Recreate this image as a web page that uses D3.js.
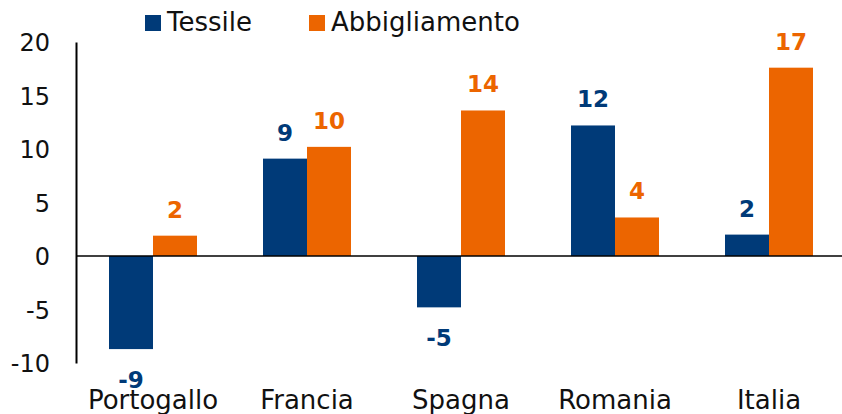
<!DOCTYPE html>
<html>
<head>
<meta charset="utf-8">
<script src="https://cdn.jsdelivr.net/npm/d3@7"></script>
<style>
  html, body { margin: 0; padding: 0; background: #fff; }
  svg { display: block; font-family: "DejaVu Sans", sans-serif; }
</style>
</head>
<body>
<svg id="chart" width="842" height="414"></svg>
<script>
const categories = ["Portogallo", "Francia", "Spagna", "Romania", "Italia"];
const seriesNames = ["Tessile", "Abbigliamento"];
const tessile = [-8.7, 9.1, -4.8, 12.2, 2.0];
const abbigliamento = [1.9, 10.2, 13.6, 3.6, 17.6];
const tessileLabels = ["-9", "9", "-5", "12", "2"];
const abbigliamentoLabels = ["2", "10", "14", "4", "17"];
const yTicks = [-10, -5, 0, 5, 10, 15, 20];
const colors = ["#003A78", "#EC6500"];

const svg = d3.select("#chart");
const x0 = d3.scaleBand().domain(categories).range([76, 846]).padding(0);
const x1 = d3.scaleBand().domain(seriesNames).range([0, x0.bandwidth()]).paddingInner(0).paddingOuter(0.75);
const y = d3.scaleLinear().domain([-10, 20]).range([363, 42]);

const seriesData = [
  { name: "Tessile", values: tessile, labels: tessileLabels, color: colors[0] },
  { name: "Abbigliamento", values: abbigliamento, labels: abbigliamentoLabels, color: colors[1] }
];

// bars
seriesData.forEach(s => {
  svg.append("g").selectAll("rect")
    .data(categories.map((c, i) => ({ c, v: s.values[i], l: s.labels[i] })))
    .join("rect")
    .attr("x", d => x0(d.c) + x1(s.name))
    .attr("width", x1.bandwidth())
    .attr("y", d => y(Math.max(0, d.v)))
    .attr("height", d => Math.abs(y(d.v) - y(0)))
    .attr("fill", s.color);
});

// value labels
seriesData.forEach(s => {
  svg.append("g").selectAll("text")
    .data(categories.map((c, i) => ({ c, v: s.values[i], l: s.labels[i] })))
    .join("text")
    .attr("x", d => x0(d.c) + x1(s.name) + x1.bandwidth() / 2)
    .attr("y", d => d.v >= 0 ? y(d.v) - 18 : y(d.v) + 39)
    .attr("text-anchor", "middle")
    .attr("font-size", 23)
    .attr("font-weight", "bold")
    .attr("fill", s.color)
    .text(d => d.l);
});

// zero line
svg.append("line")
  .attr("x1", 76).attr("x2", 842)
  .attr("y1", y(0)).attr("y2", y(0))
  .attr("stroke", "#000").attr("stroke-width", 1.5);

// y axis
const yAxis = svg.append("g")
  .attr("transform", "translate(76,0)")
  .call(d3.axisLeft(y).tickValues(yTicks).tickSize(0).tickPadding(26).tickFormat(d => String(d)));
yAxis.select(".domain").attr("stroke", "#000").attr("stroke-width", 2);
yAxis.selectAll("text")
  .attr("font-size", 24)
  .attr("font-family", "DejaVu Sans, sans-serif")
  .attr("fill", "#111")
  .attr("dy", "0.36em");

// category labels
svg.append("g").selectAll("text")
  .data(categories)
  .join("text")
  .attr("x", d => x0(d) + x0.bandwidth() / 2)
  .attr("y", 409)
  .attr("text-anchor", "middle")
  .attr("font-size", 26)
  .attr("fill", "#111")
  .text(d => d);

// legend
const legendX = [145, 309];
seriesData.forEach((s, i) => {
  svg.append("rect")
    .attr("x", legendX[i]).attr("y", 15)
    .attr("width", 16).attr("height", 16)
    .attr("fill", s.color);
  svg.append("text")
    .attr("x", legendX[i] + 22).attr("y", 31)
    .attr("font-size", 26)
    .attr("fill", "#111")
    .text(s.name);
});
</script>
</body>
</html>
